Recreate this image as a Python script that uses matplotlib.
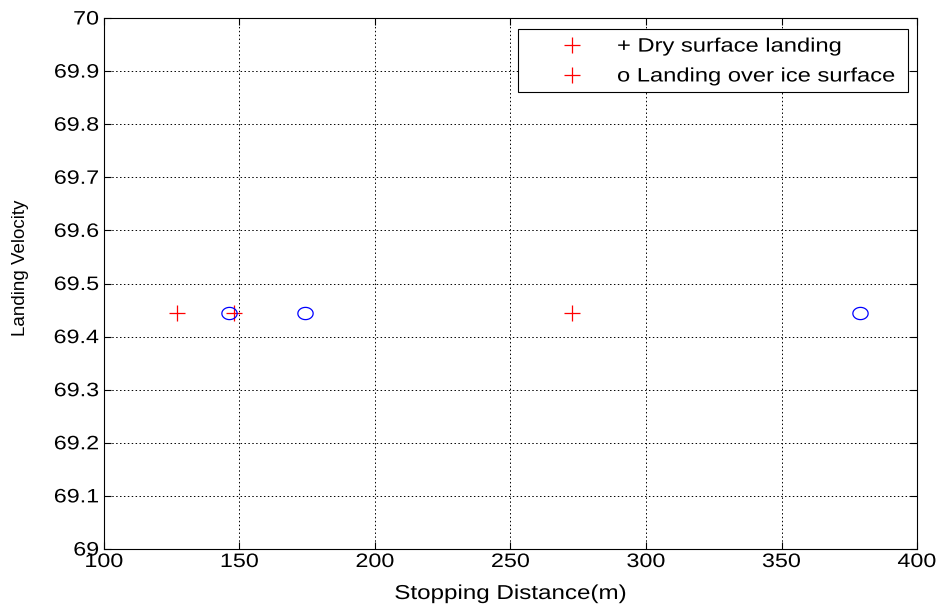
import numpy as np
import matplotlib
matplotlib.use("Agg")
import matplotlib.pyplot as plt
from matplotlib.path import Path
from matplotlib.lines import Line2D
from matplotlib.patches import Rectangle
from matplotlib.patheffects import AbstractPathEffect
from matplotlib.transforms import Affine2D

# Data
dry_distance = [127.0, 147.8, 272.7]
dry_velocity = [69.444, 69.444, 69.444]
ice_distance = [146.3, 174.0, 378.8]
ice_velocity = [69.444, 69.444, 69.444]
legend_labels = ["+ Dry surface landing", "o Landing over ice surface"]
xticks = [100, 150, 200, 250, 300, 350, 400]
yticks = [69.0, 69.1, 69.2, 69.3, 69.4, 69.5, 69.6, 69.7, 69.8, 69.9, 70.0]
ytick_labels = ["69", "69.1", "69.2", "69.3", "69.4", "69.5", "69.6", "69.7", "69.8", "69.9", "70"]

plt.rcParams['font.family'] = ['Liberation Sans', 'DejaVu Sans']

W, H = 940, 606


class HStretch(AbstractPathEffect):
    """Widen text horizontally (the reference font renders wide)."""
    def __init__(self, sx, anchor='center'):
        super().__init__()
        self.sx = sx
        self.anchor = anchor

    def draw_path(self, renderer, gc, tpath, affine, rgbFace=None):
        if len(tpath.vertices) == 0:
            return
        ext = tpath.get_extents()
        if self.anchor == 'left':
            cx = 0.0
        elif self.anchor == 'right':
            cx = ext.x1
        else:
            cx = 0.5 * (ext.x0 + ext.x1)
        t = Affine2D().translate(-cx, 0).scale(self.sx, 1).translate(cx, 0) + affine
        renderer.draw_path(gc, tpath, t, rgbFace)


# slightly flattened circle marker (as in the reference)
t = np.linspace(0, 2 * np.pi, 60)
ellipse = Path(np.column_stack([np.cos(t), 0.8 * np.sin(t)]), closed=True)

fig = plt.figure(figsize=(W / 100, H / 100), dpi=100)
ax_l, ax_r, ax_t, ax_b = 104, 917, 18, 549
ax = fig.add_axes([ax_l / W, (H - ax_b) / H, (ax_r - ax_l) / W, (ax_b - ax_t) / H])

ax.plot(dry_distance, dry_velocity, linestyle='none', marker='+', color='#ff0000',
        markersize=11, markeredgewidth=0.9, zorder=3)
ax.plot(ice_distance, ice_velocity, linestyle='none', marker=ellipse, color='#0000ff',
        markerfacecolor='none', markersize=11, markeredgewidth=0.9, zorder=3)

ax.set_xlim(100, 400)
ax.set_ylim(69, 70)
ax.set_xticks(xticks)
ax.set_xticklabels([str(v) for v in xticks])
ax.set_yticks(yticks)
ax.set_yticklabels(ytick_labels)
ax.tick_params(direction='in', length=5, width=0.8, labelsize=14, pad=3.6)
ax.tick_params(top=True, right=True)
ax.grid(True, color='black', linestyle=(0, (1.5, 2.5)), linewidth=0.7)
for s in ax.spines.values():
    s.set_linewidth(0.8)

ax.set_xlabel("Stopping Distance(m)", fontsize=14.5)
ax.xaxis.set_label_coords(0.5, (ax_b - 584) / (ax_b - ax_t))
ax.set_ylabel("Landing Velocity", fontsize=13.5)
ax.yaxis.set_label_coords((29 - ax_l) / (ax_r - ax_l), (ax_b - 268) / (ax_b - ax_t))

# legend frame (drawn separately so its size matches the reference)
frame = Rectangle((518 / W, 1 - 92 / H), 390 / W, 63 / H, transform=fig.transFigure,
                  facecolor='white', edgecolor='black', linewidth=0.8, zorder=4,
                  clip_on=False)
ax.add_patch(frame)

fs_leg = 14
fs_px = fs_leg * 100 / 72
hl = 2.0
handle_left = 572 - hl * fs_px / 2
htp = (617 - (handle_left + hl * fs_px)) / fs_px
handles = [Line2D([], [], linestyle='none', marker='+', color='#ff0000', markersize=11,
                  markeredgewidth=0.9) for _ in legend_labels]
leg = ax.legend(handles, legend_labels, loc='upper left', fontsize=fs_leg, frameon=False,
                borderpad=0, borderaxespad=0, handlelength=hl, handletextpad=htp,
                labelspacing=0.63, bbox_to_anchor=(handle_left / W, 1 - 38 / H),
                bbox_transform=fig.transFigure)
leg.set_zorder(5)

fig.canvas.draw()
for lbl in ax.get_xticklabels():
    lbl.set_path_effects([HStretch(1.2, 'center')])
for lbl in ax.get_yticklabels():
    lbl.set_path_effects([HStretch(1.2, 'right')])
ax.xaxis.label.set_path_effects([HStretch(1.2, 'center')])
for txt in leg.get_texts():
    txt.set_path_effects([HStretch(1.22, 'left')])

fig.savefig("out.png", dpi=100)
